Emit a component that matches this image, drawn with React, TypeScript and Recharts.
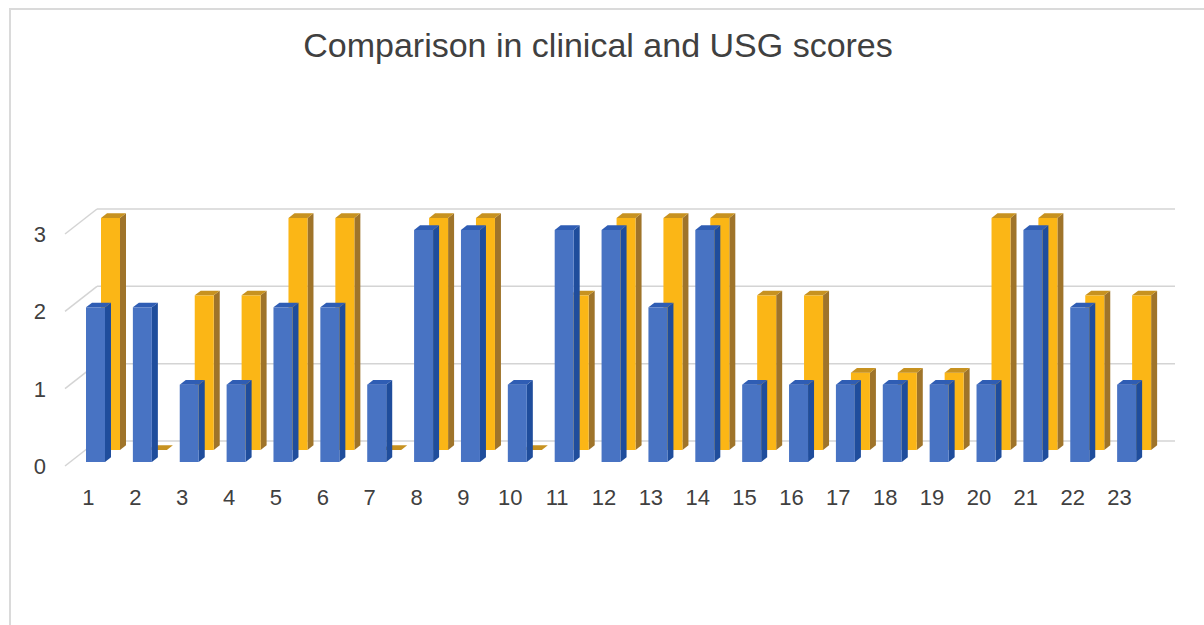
import { BarChart, Bar, XAxis, YAxis, CartesianGrid } from "recharts";

// patient numbers on the x axis
const patients = ["1", "2", "3", "4", "5", "6", "7", "8", "9", "10", "11", "12", "13", "14", "15", "16", "17", "18", "19", "20", "21", "22", "23"];
// front (blue) series
const clinicalScores = [2, 2, 1, 1, 2, 2, 1, 3, 3, 1, 3, 3, 2, 3, 1, 1, 1, 1, 1, 1, 3, 2, 1];
// back (gold) series
const usgScores = [3, 0, 2, 2, 3, 3, 0, 3, 3, 0, 2, 3, 3, 3, 2, 2, 1, 1, 1, 3, 3, 2, 2];
const scoreTicks = [0, 1, 2, 3];

const data = patients.map((p, i) => ({
  patient: p,
  clinical: clinicalScores[i],
  usg: usgScores[i],
}));

// depth direction of the fake 3d box: +32 right, -25 up for full depth
const DEPTH_X = 32;
const DEPTH_Y = -25;
const LABEL_FONT = "'Liberation Sans', Arial, sans-serif";

function make3DBar(front: string, side: string, cap: string, shiftX: number, shiftY: number) {
  return (props: any) => {
    const { x, y, width, height } = props;
    const d = 6;
    const r = (d * 25) / 32;
    const fx = x + shiftX;
    const top = y + shiftY;
    const base = y + height + shiftY;
    return (
      <g>
        <polygon
          points={`${fx + width},${base} ${fx + width + d},${base - r} ${fx + width + d},${top - r} ${fx + width},${top}`}
          fill={side}
        />
        <rect x={fx} y={top} width={width} height={Math.max(height, 0)} fill={front} />
        <polygon
          points={`${fx},${top} ${fx + width},${top} ${fx + width + d},${top - r} ${fx + d},${top - r}`}
          fill={cap}
        />
      </g>
    );
  };
}

const blueBar = make3DBar("#4873c3", "#1f4d9c", "#2f5db4", 15, -4);
const goldBar = make3DBar("#fbb616", "#9f742a", "#c79220", 15, -16);

function XTick(props: any) {
  const { x, y, payload } = props;
  return (
    <text x={x} y={y + 37} textAnchor="middle" fontSize={22} fill="#404040" fontFamily={LABEL_FONT}>
      {payload.value}
    </text>
  );
}

function YTick(props: any) {
  const { y, payload } = props;
  return (
    <text x={46} y={y + 8} textAnchor="end" fontSize={22} fill="#404040" fontFamily={LABEL_FONT}>
      {payload.value}
    </text>
  );
}

function BackGridLine(props: any) {
  const { x1, y1, x2, y2 } = props;
  return (
    <g>
      <line x1={x1} y1={y1} x2={x1 + DEPTH_X} y2={y1 + DEPTH_Y} stroke="#d4d4d4" strokeWidth={1.5} />
      <line x1={x1 + DEPTH_X} y1={y1 + DEPTH_Y} x2={x2 + DEPTH_X} y2={y2 + DEPTH_Y} stroke="#d4d4d4" strokeWidth={1.5} />
    </g>
  );
}

export default function App() {
  return (
    <div style={{ position: "absolute", left: 0, top: 0, width: 1204, height: 625, background: "#fff" }}>
      <div
        style={{
          position: "absolute",
          left: 9,
          top: 8,
          width: 1195,
          height: 615,
          borderLeft: "2px solid #dadada",
          borderTop: "2px solid #dadada",
          borderBottom: "1px solid #eeeeee",
        }}
      />
      <div
        style={{
          position: "absolute",
          left: 0,
          top: 26,
          width: 1196,
          textAlign: "center",
          fontFamily: LABEL_FONT,
          fontSize: 34,
          color: "#404040",
        }}
      >
        Comparison in clinical and USG scores
      </div>
      <div style={{ position: "absolute", left: 0, top: 0 }}>
        <BarChart
          width={1204}
          height={625}
          data={data}
          margin={{ top: 234, right: 61, bottom: 129, left: 25 }}
          barSize={19}
          barGap={-34}
        >
          <CartesianGrid vertical={false} horizontal={(p: any) => <BackGridLine key={p.key} {...p} />} />
          <XAxis dataKey="patient" height={30} axisLine={false} tickLine={false} tickSize={0} tick={<XTick />} interval={0} />
          <YAxis
            width={40}
            domain={[0, 3]}
            ticks={scoreTicks}
            axisLine={false}
            tickLine={false}
            tickSize={0}
            tick={<YTick />}
          />
          <Bar dataKey="usg" shape={goldBar} isAnimationActive={false} />
          <Bar dataKey="clinical" shape={blueBar} isAnimationActive={false} />
        </BarChart>
      </div>
    </div>
  );
}
